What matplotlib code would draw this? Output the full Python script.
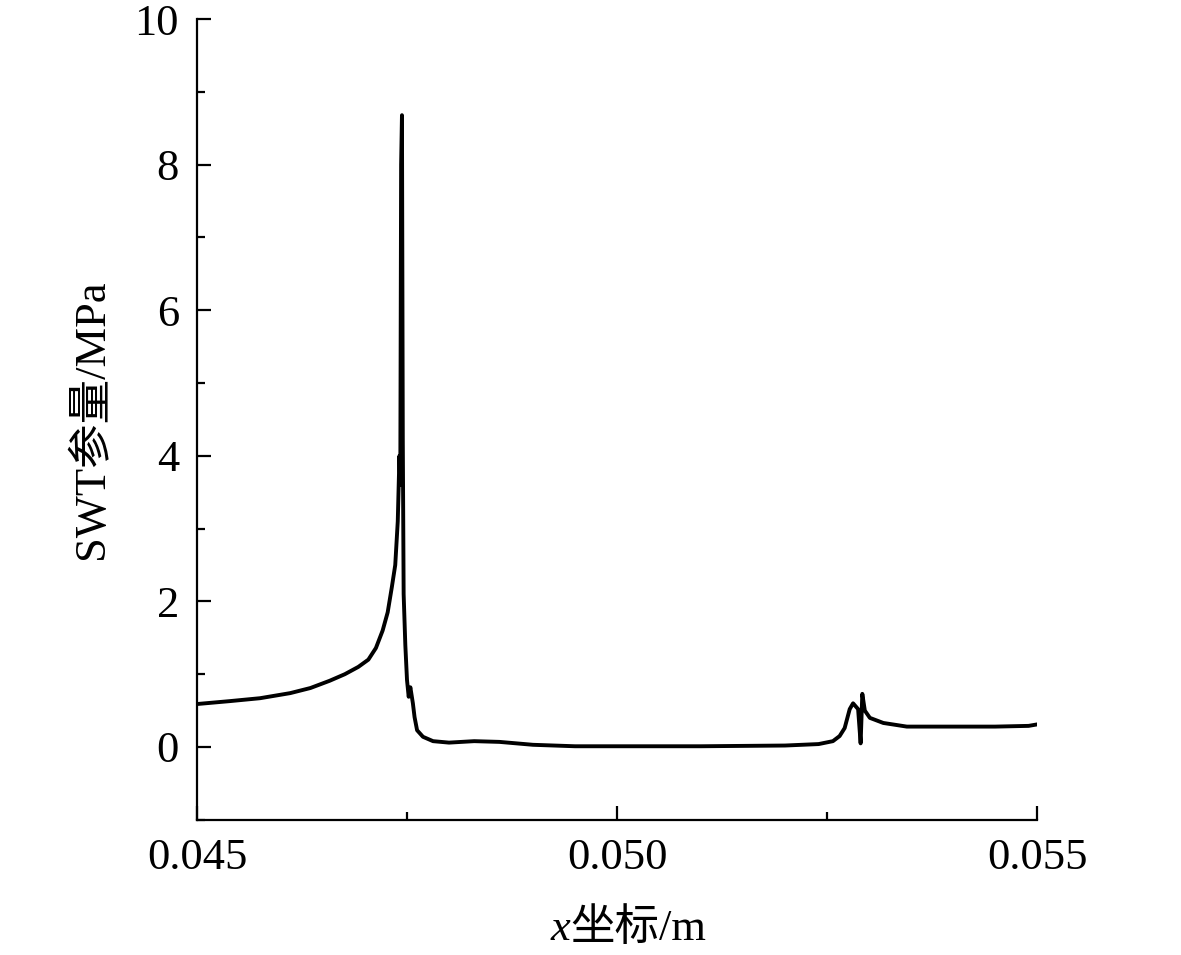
import numpy as np
import matplotlib
matplotlib.use("Agg")
import matplotlib.pyplot as plt
from matplotlib.ticker import MultipleLocator

# ---------------- DATA ----------------
x_coord = [
    0.04500, 0.04539, 0.04575, 0.04611, 0.04635, 0.04658, 0.04676, 0.04692,
    0.04704, 0.04713, 0.04721, 0.04727, 0.04732, 0.04736, 0.04739, 0.04741,
    0.04742, 0.04743, 0.04744, 0.04745, 0.04746, 0.04748, 0.04750, 0.04752,
    0.04754, 0.04757, 0.04759, 0.04762, 0.04769, 0.04781, 0.04800, 0.04830,
    0.04860, 0.04900, 0.04950, 0.05000, 0.05100, 0.05200, 0.05240, 0.05257,
    0.05265, 0.05271, 0.05277, 0.05281, 0.05287, 0.05290, 0.05292, 0.05295,
    0.05301, 0.05317, 0.05345, 0.05400, 0.05450, 0.05490, 0.05500,
]
swt = [
    0.59, 0.63, 0.67, 0.74, 0.81, 0.91, 1.00, 1.10,
    1.20, 1.36, 1.60, 1.85, 2.20, 2.50, 3.10, 4.00,
    3.60, 8.00, 8.68, 4.20, 2.10, 1.40, 0.92, 0.69,
    0.82, 0.60, 0.41, 0.23, 0.14, 0.08, 0.06, 0.08,
    0.07, 0.03, 0.01, 0.01, 0.01, 0.02, 0.04, 0.08,
    0.15, 0.26, 0.52, 0.60, 0.52, 0.05, 0.73, 0.50,
    0.40, 0.33, 0.28, 0.28, 0.28, 0.29, 0.31,
]
x_ticks = [0.045, 0.050, 0.055]
y_ticks = [0, 2, 4, 6, 8, 10]

# ---------------- STYLE ----------------
FONTS = ["Liberation Serif", "Noto Sans CJK SC"]
plt.rcParams["font.family"] = FONTS
FS = 32

fig = plt.figure(figsize=(11.81, 9.55), dpi=100)
ax = fig.add_axes([0.1668, 0.1416, 0.7113, 0.8384])

ax.plot(x_coord, swt, color="black", lw=2.8, solid_joinstyle="round")

ax.set_xlim(0.045, 0.055)
ax.set_ylim(-1, 10)
ax.set_xticks(x_ticks)
ax.set_xticklabels([f"{v:.3f}" for v in x_ticks])
ax.set_yticks(y_ticks)
ax.xaxis.set_minor_locator(MultipleLocator(0.0025))
ax.yaxis.set_minor_locator(MultipleLocator(1))

for side in ["top", "right"]:
    ax.spines[side].set_visible(False)
for side in ["left", "bottom"]:
    ax.spines[side].set_linewidth(1.6)

ax.tick_params(which="major", direction="in", length=10, width=1.6,
               labelsize=FS, pad=13)
ax.tick_params(which="minor", direction="in", length=5.5, width=1.6)

ax.set_ylabel("SWT参量/MPa", fontsize=FS, labelpad=16)

# x label: italic x followed by upright text
split = 0.483
fig.text(split, 0.016, "x", fontsize=FS, style="italic",
         family="Liberation Serif", ha="right", va="baseline")
fig.text(split, 0.016, "坐标/m", fontsize=FS, ha="left", va="baseline")

fig.savefig("out.png", dpi=100)
